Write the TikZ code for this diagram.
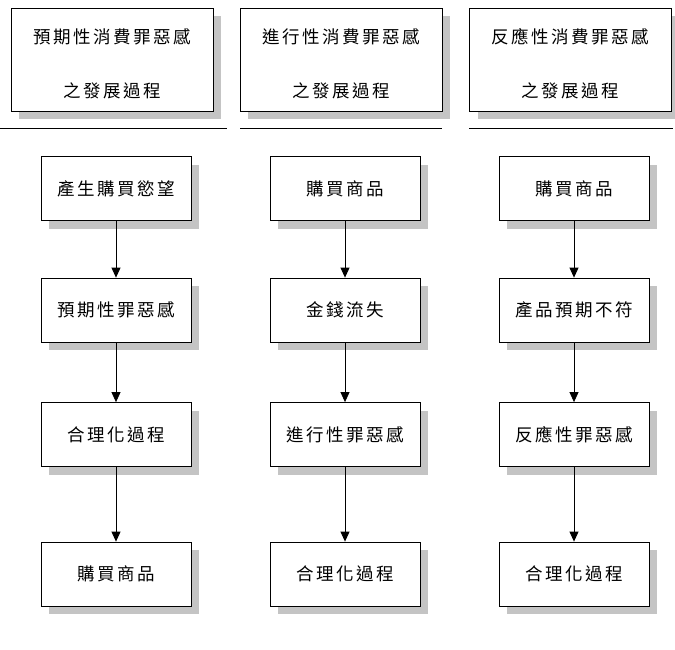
\documentclass[tikz,border=0pt]{standalone}
\usepackage{fontspec}
\setmainfont{Noto Sans CJK TC}[LetterSpace=14]
\usepackage{tikz}
\usetikzlibrary{arrows.meta,shadows}

\newcommand{\headtext}[2]{\raisebox{-6.5pt}[\height][\depth]{\begin{tabular}{@{}c@{}}#1\\[33pt]#2\end{tabular}}}

\begin{document}
\begin{tikzpicture}[
  x=1pt, y=-1pt,
  head/.style={draw, fill=white, line width=0.8pt, minimum width=202pt, minimum height=103pt, inner sep=0pt, font=\fontsize{17.5}{20}\selectfont, drop shadow={shadow xshift=8pt, shadow yshift=-8pt, fill=black!23, opacity=1}},
  stage/.style={draw, fill=white, line width=0.8pt, minimum width=150pt, minimum height=64pt, inner sep=0pt, font=\fontsize{17.5}{20}\selectfont, drop shadow={shadow xshift=8pt, shadow yshift=-8pt, fill=black!23, opacity=1}},
  rule/.style={line width=1pt},
  arr/.style={-{Triangle[length=10pt, width=9pt]}, line width=0.8pt}
]
\useasboundingbox (0,0) rectangle (675,649);

\node[head] (hant) at (112, 59.5)  {\headtext{預期性消費罪惡感}{之發展過程}};
\node[head] (hong) at (341, 59.5)  {\headtext{進行性消費罪惡感}{之發展過程}};
\node[head] (hrea) at (570.5, 59.5) {\headtext{反應性消費罪惡感}{之發展過程}};

\draw[rule] (0, 128) -- (227, 128);
\draw[rule] (240, 128) -- (442, 128);
\draw[rule] (469, 128) -- (673, 128);

\node[stage] (ant1) at (116, 188.5) {產生購買慾望};
\node[stage] (ant2) at (116, 310)   {預期性罪惡感};
\node[stage] (ant3) at (116, 434.5) {合理化過程};
\node[stage] (ant4) at (116, 574)   {購買商品};

\node[stage] (ong1) at (345, 188.5) {購買商品};
\node[stage] (ong2) at (345, 310)   {金錢流失};
\node[stage] (ong3) at (345, 434.5) {進行性罪惡感};
\node[stage] (ong4) at (345, 574)   {合理化過程};

\node[stage] (rea1) at (574, 188.5) {購買商品};
\node[stage] (rea2) at (574, 310)   {產品預期不符};
\node[stage] (rea3) at (574, 434.5) {反應性罪惡感};
\node[stage] (rea4) at (574, 574)   {合理化過程};

\foreach \c in {ant, ong, rea}
  \foreach \i/\j in {1/2, 2/3, 3/4}
    \draw[arr] (\c\i) -- (\c\j);

\end{tikzpicture}
\end{document}
